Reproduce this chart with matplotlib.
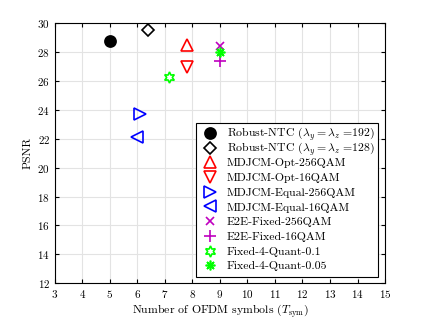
# PSNR vs number of OFDM symbols, scatter of the compared schemes

import matplotlib
matplotlib.use('Agg')
import matplotlib.pyplot as plt
from matplotlib.offsetbox import TextArea
from matplotlib.transforms import Bbox

plt.rcParams['font.family'] = 'serif'
plt.rcParams['font.serif'] = ['cmr10']
plt.rcParams['mathtext.fontset'] = 'cm'
plt.rcParams['axes.formatter.use_mathtext'] = True

# data
labels = [r'Robust-NTC ($\lambda_y = \lambda_z$ =192)',
          r'Robust-NTC ($\lambda_y = \lambda_z$ =128)',
          'MDJCM-Opt-256QAM',
          'MDJCM-Opt-16QAM',
          'MDJCM-Equal-256QAM',
          'MDJCM-Equal-16QAM',
          'E2E-Fixed-256QAM',
          'E2E-Fixed-16QAM',
          'Fixed-4-Quant-0.1',
          'Fixed-4-Quant-0.05']
n_sym = [5.0, 6.4, 7.8, 7.8, 6.1, 6.0, 9.0, 9.0, 7.15, 9.0]
psnr = [28.75, 29.55, 28.5, 26.95, 23.7, 22.1, 28.43, 27.42, 26.27, 28.0]

# marker styles
markers = ['o', 'D', '^', 'v', '>', '<', 'x', '+', (6, 1, 0), (8, 2, 0)]
colors = ['k', 'k', 'r', 'r', 'b', 'b', 'm', 'm', (0, 1, 0), (0, 1, 0)]
filled = [True, False, False, False, False, False, True, True, False, True]
sizes = [8, 6, 8, 8, 8, 8, 6, 8, 8, 7]

fig = plt.figure(figsize=(4.25, 3.19), dpi=100)
ax = fig.add_axes([0.129, 0.112, 0.777, 0.815])

for i in range(len(labels)):
    ax.plot(n_sym[i], psnr[i], linestyle='none', marker=markers[i],
            color=colors[i], markersize=sizes[i], markeredgewidth=1.2,
            markerfacecolor=colors[i] if filled[i] else 'none',
            label=labels[i])

ax.set_xlim(3, 15)
ax.set_ylim(12, 30)
ax.set_xticks(range(3, 16))
ax.set_yticks(range(12, 31, 2))
ax.tick_params(direction='in', top=True, right=True, labelsize=8, length=3)
ax.grid(True, color='#e3e3e3', linewidth=0.8)
ax.set_axisbelow(True)
for s in ax.spines.values():
    s.set_linewidth(0.8)
ax.set_xlabel(r'Number of OFDM symbols ($T_{\rm sym}$)', fontsize=8.5, labelpad=2)
ax.set_ylabel('PSNR', fontsize=8.5, labelpad=3)

leg = ax.legend(loc='lower right', fontsize=8.5, fancybox=False, framealpha=1,
                edgecolor='k', handlelength=1.8, handleheight=0.7,
                handletextpad=0.5, labelspacing=0.0, borderpad=0.3,
                borderaxespad=0, bbox_to_anchor=(0.979, 0.023))
leg.get_frame().set_linewidth(0.8)


# equal row height for plain and math labels (like the MATLAB legend)
def row_bbox(self, renderer):
    bb = TextArea.get_bbox(self, renderer)
    h = renderer.points_to_pixels(10.6)
    d = renderer.points_to_pixels(3.1)
    return Bbox.from_bounds(bb.x0, -d, bb.width, h)


for ta in leg.findobj(TextArea):
    ta.get_bbox = row_bbox.__get__(ta)

plt.savefig('out.png', dpi=100)
